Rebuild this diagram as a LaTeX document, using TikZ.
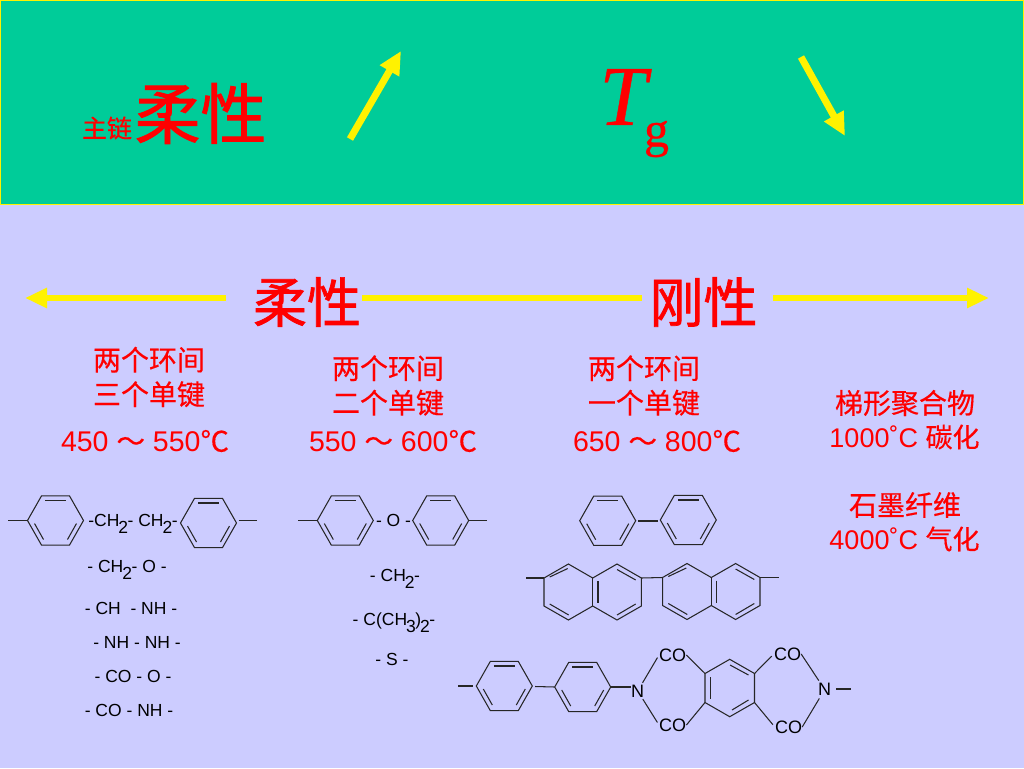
\documentclass[tikz,border=0pt]{standalone}
\usepackage{fontspec}
\setmainfont{Liberation Sans}
\newfontfamily\cjk[FakeBold=0.4]{Noto Sans CJK SC}
\newfontfamily\cjkheavy[FakeBold=1.3]{Noto Sans CJK SC}
\newfontfamily\timesfont[FakeBold=0.5]{Liberation Serif}
\usetikzlibrary{positioning}
\usetikzlibrary{arrows.meta}
\definecolor{bandgreen}{RGB}{0,204,153}
\definecolor{paleblue}{RGB}{204,204,255}
\tikzset{
  bond/.style={draw=black!85,line width=1.05pt},
  redcjk/.style={text=red,inner sep=0pt,align=center,font=\cjk\fontsize{28}{34.5}\selectfont},
  redtemp/.style={text=red,inner sep=0pt,font=\fontsize{28.5}{30}\selectfont},
  redsmall/.style={text=red,inner sep=0pt,font=\fontsize{27}{30}\selectfont},
  bigcjk/.style={text=red,inner sep=0pt,font=\cjkheavy\fontsize{54}{60}\selectfont},
  group/.style={text=black,inner sep=0pt,font=\fontsize{17.5}{20}\selectfont},
  atom/.style={text=black,inner sep=0pt,font=\fontsize{18}{20}\selectfont},
  bararrow/.style={yellow,line width=6pt,-{Triangle[length=22pt,width=19pt]}},
  tiltarrow/.style={yellow,line width=7pt,-{Triangle[length=23pt,width=21pt]}},
  barline/.style={yellow,line width=6pt},
}
\newcommand{\subnum}[1]{\kern-1pt\raisebox{-7pt}{\fontsize{17.5}{17}\selectfont #1}\kern-0.5pt}
% flat ring: vertices left and right
\newcommand{\flatring}[3]{
  \coordinate (#1e) at (#2+28,#3);
  \coordinate (#1w) at (#2-28,#3);
  \draw[bond] (#2+28,#3) -- (#2+14,#3-24.6) -- (#2-14,#3-24.6) -- (#2-28,#3)
    -- (#2-14,#3+24.6) -- (#2+14,#3+24.6) -- cycle;
  \draw[bond] (#2-10.5,#3-20) -- (#2+10.5,#3-20);
  \draw[bond] (#2-21,#3+3) -- (#2-12,#3+19);
  \draw[bond] (#2+21,#3+3) -- (#2+12,#3+19);
}
% two fused rings, #2 #3 is the middle of the shared bond
\newcommand{\fusedrings}[3]{
  \coordinate (#1w) at (#2-48.7,#3-14);
  \coordinate (#1e) at (#2+48.7,#3-14);
  \draw[bond] (#2,#3-14) -- (#2-24.3,#3-28) -- (#2-48.7,#3-14) -- (#2-48.7,#3+14)
    -- (#2-24.3,#3+28) -- (#2,#3+14) -- (#2+24.3,#3+28) -- (#2+48.7,#3+14)
    -- (#2+48.7,#3-14) -- (#2+24.3,#3-28) -- cycle;
  \draw[bond] (#2,#3-14) -- (#2,#3+14);
  \draw[bond] (#2+5.3,#3-11) -- (#2+5.3,#3+11);
  \draw[bond] (#2-43,#3-15) -- (#2-25,#3-23.5);
  \draw[bond] (#2-43,#3+12) -- (#2-24,#3+23);
  \draw[bond] (#2+24.3,#3-22.5) -- (#2+43,#3-12);
  \draw[bond] (#2+24.3,#3+23) -- (#2+43,#3+12);
}
\begin{document}
\begin{tikzpicture}[x=1pt,y=-1pt]
  \useasboundingbox (0,0) rectangle (1024,768);
  \fill[paleblue] (0,0) rectangle (1024,768);
  \draw[fill=bandgreen,draw=yellow,line width=1.5pt] (0.7,0.7) rectangle (1023.3,204.5);

  % top band
  \node[text=red,inner sep=0pt,font=\cjk\fontsize{25}{28}\selectfont] (mainchain) at (107,128) {主链};
  \node[text=red,inner sep=0pt,font=\cjkheavy\fontsize{66}{70}\selectfont] (flexTop) at (200.5,113.5) {柔性};
  \node[text=red,inner sep=0pt,font=\timesfont\itshape\fontsize{85}{90}\selectfont] (tgT) at (623,97) {T};
  \node[text=red,inner sep=0pt,font=\timesfont\fontsize{50}{52}\selectfont] (tgG) at (656.5,139) {g};
  \coordinate (upA) at (350,139);
  \coordinate (upB) at (401,51);
  \coordinate (downA) at (801,57);
  \coordinate (downB) at (845,136);
  \draw[tiltarrow] (upA) -- (upB);
  \draw[tiltarrow] (downA) -- (downB);

  % flexible to rigid bar
  \node[bigcjk] (flexBar) at (307,302) {柔性};
  \node[bigcjk] (rigidBar) at (703.5,302) {刚性};
  \coordinate (barLa) at (226,298);
  \coordinate (barLb) at (25,298);
  \coordinate (barMa) at (362,298);
  \coordinate (barMb) at (642,298);
  \coordinate (barRa) at (773,298);
  \coordinate (barRb) at (989,298);
  \draw[bararrow] (barLa) -- (barLb);
  \draw[barline] (barMa) -- (barMb);
  \draw[bararrow] (barRa) -- (barRb);

  % red labels
  \node[redcjk] (bondsThree) at (149,377) {两个环间\\三个单键};
  \node[redcjk] (bondsTwo) at (388,385.5) {两个环间\\二个单键};
  \node[redcjk] (bondsOne) at (644,385.5) {两个环间\\一个单键};
  \node[redtemp] (tempThree) at (145,441) {450 {\cjk ～} 550{\cjk ℃}};
  \node[redtemp] (tempTwo) at (393,441) {550 {\cjk ～} 600{\cjk ℃}};
  \node[redtemp] (tempOne) at (657,441) {650 {\cjk ～} 800{\cjk ℃}};
  \node[redcjk] (ladder) at (905,403) {梯形聚合物};
  \node[redsmall] (ladderTemp) at (904.5,437) {1000˚C {\cjk 碳化}};
  \node[redcjk] (graphite) at (905,505) {石墨纤维};
  \node[redsmall] (graphiteTemp) at (904.5,539) {4000˚C {\cjk 气化}};

  % first column
  \flatring{ringA}{55.5}{520.5}
  \flatring{ringB}{208.5}{523}
  \coordinate (endA) at (8,520.5);
  \coordinate (endB) at (257,520.5);
  \coordinate (startB) at (238.7,520.5);
  \draw[bond] (endA) -- (ringAw);
  \draw[bond] (startB) -- (endB);
  \node[group] (linkA) at (133,524) {-CH\subnum{2}- CH\subnum{2}-};
  \node[group] (grpA) at (127,569.5) {- CH\subnum{2}- O -};
  \node[group] (grpB) at (131,608) {- CH\ \ - NH -};
  \node[group] (grpC) at (137,642) {- NH - NH -};
  \node[group] (grpD) at (133,676) {- CO - O -};
  \node[group] (grpE) at (129,710) {- CO - NH -};

  % second column
  \flatring{ringC}{345.3}{520.5}
  \flatring{ringD}{440.7}{520.5}
  \coordinate (endC) at (298,520.5);
  \coordinate (endD) at (487,520.5);
  \draw[bond] (endC) -- (ringCw);
  \draw[bond] (ringDe) -- (endD);
  \node[group] (linkB) at (393.5,520) {- O -};
  \node[group] (grpF) at (395,579) {- CH\subnum{2}-};
  \node[group] (grpG) at (394,623) {- C(CH\subnum{3} )\subnum{2}-};
  \node[group] (grpH) at (392,659) {- S -};

  % third column
  \flatring{ringE}{607.7}{520.7}
  \flatring{ringF}{688.3}{520}
  \coordinate (linkEa) at (638,521);
  \coordinate (linkEb) at (658,521);
  \draw[bond] (linkEa) -- (linkEb);
  \fusedrings{napA}{592.7}{592}
  \fusedrings{napB}{711.3}{591.5}
  \coordinate (endG) at (526,578);
  \coordinate (endH) at (779,577.5);
  \draw[bond] (endG) -- (napAw);
  \draw[bond] (napAe) -- (napBw);
  \draw[bond] (napBe) -- (endH);

  % imide chain
  \flatring{ringG}{504.3}{686}
  \flatring{ringH}{582.7}{687}
  \coordinate (endJ) at (458,686);
  \coordinate (endJb) at (473,686);
  \coordinate (endK) at (851,689);
  \coordinate (endKb) at (836,689);
  \coordinate (linkGb) at (535,686.5);
  \draw[bond] (endJ) -- (endJb);
  \draw[bond] (linkGb) -- (ringHw);
  \coordinate (ringMul) at (705,673.5);
  \coordinate (ringMur) at (754.5,673.5);
  \coordinate (ringMll) at (705,702.5);
  \coordinate (ringMlr) at (754.5,702.5);
  \draw[bond] (ringMul) -- (729.7,659.3) -- (ringMur) -- (ringMlr)
    -- (729.7,716.7) -- (ringMll) -- cycle;
  \draw[bond] (710.5,677) -- (710.5,699);
  \draw[bond] (730,665) -- (748.5,675);
  \draw[bond] (732,710) -- (748.5,700);
  \node[atom] (nLeft) at (637.7,691) {N};
  \node[atom] (nRight) at (824.7,689.5) {N};
  \node[atom] (coUl) at (672.7,655) {CO};
  \node[atom] (coLl) at (672.7,725) {CO};
  \node[atom] (coUr) at (787.5,654) {CO};
  \node[atom] (coLr) at (788.5,727) {CO};
  \draw[bond] (ringHe) -- (nLeft.west |- ringHe);
  \draw[bond,shorten <=2pt,shorten >=3pt] (nLeft) -- (coUl.west);
  \draw[bond,shorten <=2pt,shorten >=3pt] (nLeft) -- (coLl.west);
  \draw[bond] (coUl.east) -- (ringMul);
  \draw[bond] (coLl.east) -- (ringMll);
  \draw[bond,shorten >=3pt] (ringMur) -- (coUr.west);
  \draw[bond,shorten >=3pt] (ringMlr) -- (coLr.west);
  \draw[bond,shorten >=3pt] (coUr.east) -- (nRight);
  \draw[bond,shorten >=3pt] (coLr.east) -- (nRight);
  \draw[bond] (endKb) -- (endK);
\end{tikzpicture}
\end{document}
